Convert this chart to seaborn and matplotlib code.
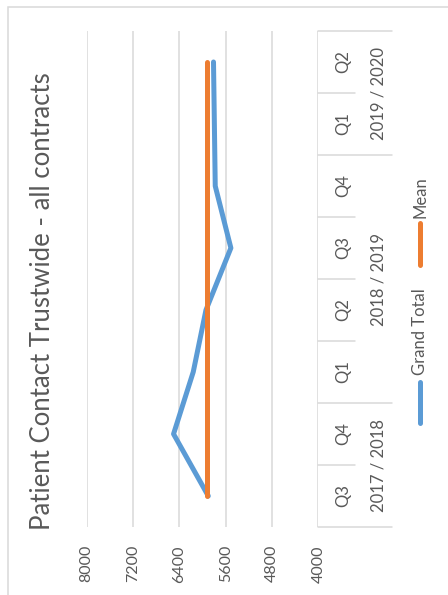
import matplotlib
matplotlib.use("Agg")
import matplotlib.pyplot as plt
from matplotlib.lines import Line2D
from matplotlib.patches import Rectangle
from matplotlib.transforms import blended_transform_factory
import numpy as np
import pandas as pd
import seaborn as sns

# Quarterly patient contacts (all contracts)
quarters = ["Q3", "Q4", "Q1", "Q2", "Q3", "Q4", "Q1", "Q2"]
years = ["2017 / 2018", "2018 / 2019", "2019 / 2020"]
year_spans = [(0, 1), (2, 5), (6, 7)]
grand_total = [5900, 6500, 6160, 5940, 5510, 5780, 5795, 5810]
mean_values = [5920, 5920, 5920, 5920, 5920, 5920, 5920, 5920]
value_ticks = [8000, 7200, 6400, 5600, 4800, 4000]

sns.set_style("white")
plt.rcParams["font.family"] = ["Lato", "DejaVu Sans"]

BLUE = "#5B9BD5"
ORANGE = "#ED7D31"
GRID = "#D9D9D9"
TEXT = "#595959"

W, H = 448, 595
fig = plt.figure(figsize=(W / 100, H / 100), dpi=100)


def fx(px):
    return px / W


def fy(py):
    return 1 - py / H


# outer chart frame
fig.patches.append(Rectangle((fx(8), fy(640)), fx(500), fy(7) - fy(640),
                             transform=fig.transFigure, fill=False,
                             edgecolor=GRID, linewidth=1.1))

ax = fig.add_axes([fx(86.7), fy(527), fx(318.3) - fx(86.7), fy(31) - fy(527)])

pos = np.arange(len(quarters))
df = pd.DataFrame({"pos": pos, "Grand Total": grand_total, "Mean": mean_values})

sns.lineplot(data=df, x="Grand Total", y="pos", orient="y", sort=False,
             color=BLUE, linewidth=3.6, solid_capstyle="round", ax=ax, zorder=3)
sns.lineplot(data=df, x="Mean", y="pos", orient="y", sort=False,
             color=ORANGE, linewidth=3.6, solid_capstyle="round", ax=ax, zorder=4)

ax.set_xlim(8000, 4000)
ax.set_ylim(-0.5, len(quarters) - 0.5)
ax.set_xticks(value_ticks)
ax.set_xticklabels([str(v) for v in value_ticks], rotation=90, color=TEXT,
                   fontsize=11.5, va="top", ha="center")
ax.tick_params(axis="x", length=0, pad=13)
ax.set_yticks([])
ax.set_xlabel("")
ax.set_ylabel("")
for s in ax.spines.values():
    s.set_visible(False)
for v in value_ticks:
    ax.axvline(v, color=GRID, linewidth=1.1, zorder=1)

# category axis labels and dividers on the right side
tr = blended_transform_factory(fig.transFigure, ax.transData)
for p, q in zip(pos, quarters):
    ax.text(fx(343), p, q, transform=tr, rotation=90, ha="center", va="center",
            color=TEXT, fontsize=12)
for (a, b), yr in zip(year_spans, years):
    ax.text(fx(378), (a + b) / 2, yr, transform=tr, rotation=90, ha="center",
            va="center", color=TEXT, fontsize=12)
long_edges = {-0.5} | {b + 0.5 for a, b in year_spans}
for edge in np.arange(-0.5, len(quarters), 1.0):
    end = 392 if edge in long_edges else 355
    ax.add_line(Line2D([fx(318.3), fx(end)], [edge, edge], transform=tr,
                       color=GRID, linewidth=1.1, clip_on=False))

# title
fig.text(fx(43), fy(301), "Patient Contact Trustwide - all contracts",
         rotation=90, ha="center", va="center", color=TEXT, fontsize=18.5)

# legend
fig.add_artist(Line2D([fx(420), fx(420)], [fy(423), fy(382)], color=BLUE,
                      linewidth=3.6, solid_capstyle="round"))
fig.text(fx(420), fy(332), "Grand Total", rotation=90, ha="center",
         va="center", color=TEXT, fontsize=12)
fig.add_artist(Line2D([fx(420), fx(420)], [fy(265), fy(223)], color=ORANGE,
                      linewidth=3.6, solid_capstyle="round"))
fig.text(fx(420), fy(197), "Mean", rotation=90, ha="center", va="center",
         color=TEXT, fontsize=12)

fig.savefig("out.png", dpi=100, facecolor="white")
